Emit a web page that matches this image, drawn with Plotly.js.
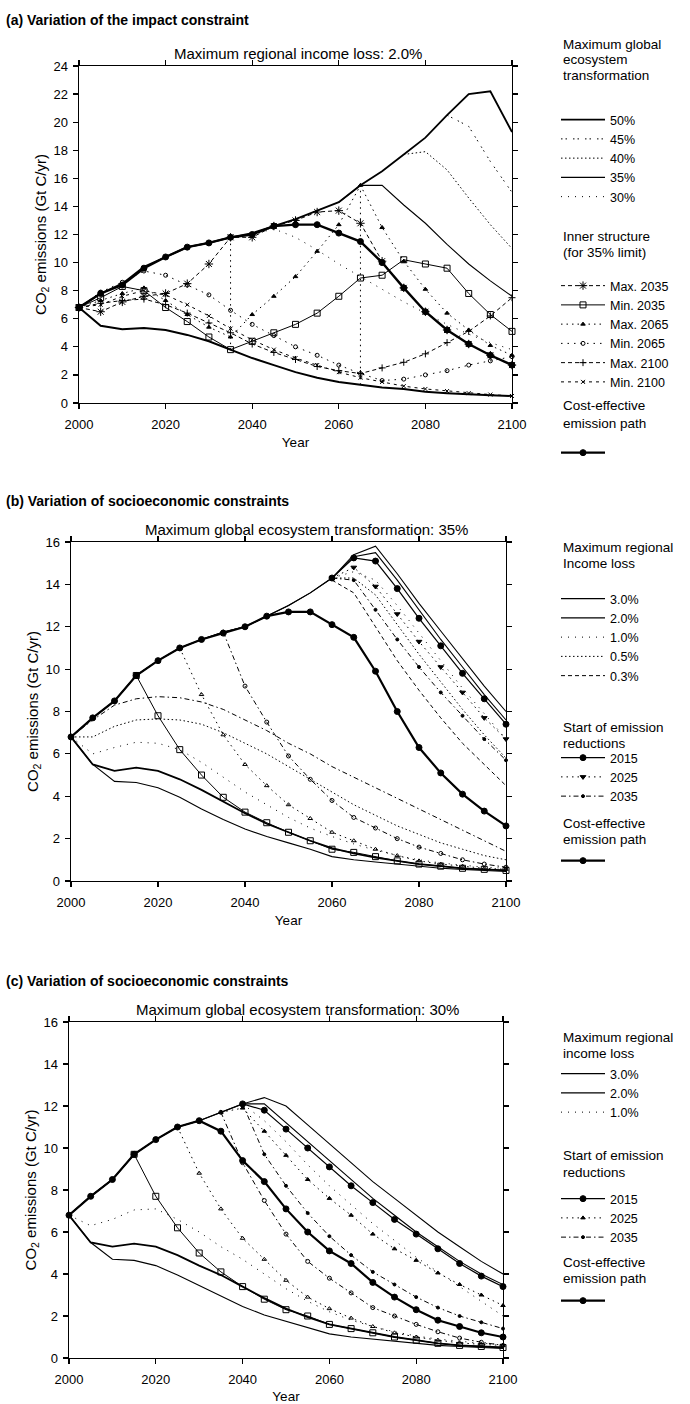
<!DOCTYPE html>
<html>
<head>
<meta charset="utf-8">
<script src="https://cdn.plot.ly/plotly-3.0.1.min.js"></script>
<style>html,body{margin:0;padding:0;background:#fff;}#chart{width:690px;height:1404px;}</style>
</head>
<body>
<div id="chart"></div>
<script>
// ---------- DATA ----------
const YEARS = [2000,2005,2010,2015,2020,2025,2030,2035,2040,2045,2050,2055,2060,2065,2070,2075,2080,2085,2090,2095,2100];
const X_TICKS = [2000,2020,2040,2060,2080,2100];
const A_Y_TICKS = [0,2,4,6,8,10,12,14,16,18,20,22,24];
const BC_Y_TICKS = [0,2,4,6,8,10,12,14,16];

// Panel (a): variation of the impact constraint (max regional income loss 2.0%)
const A_COST    = [6.8,7.8,8.4,9.6,10.4,11.1,11.4,11.8,12.0,12.6,12.7,12.7,12.1,11.5,10.0,8.2,6.5,5.2,4.2,3.4,2.7];
const A_LOWER   = [6.8,5.5,5.25,5.35,5.2,4.85,4.4,3.8,3.2,2.7,2.2,1.8,1.5,1.3,1.1,1.0,0.8,0.7,0.6,0.55,0.5];
const A_UP50    = [6.8,7.8,8.5,9.7,10.4,11.1,11.4,11.8,12.1,12.6,13.1,13.7,14.3,15.5,16.5,17.7,18.9,20.5,22.0,22.2,19.3];
const A_UP45    = [null,null,null,null,null,null,null,null,null,null,null,null,null,null,null,null,null,20.5,19.7,17.2,15.0];
const A_UP40    = [null,null,null,null,null,null,null,null,null,null,null,null,null,null,null,17.7,17.9,16.6,14.6,12.7,11.0];
const A_UP35    = [null,null,null,null,null,null,null,null,null,null,null,null,14.3,15.5,15.5,14.1,12.8,11.3,9.9,8.7,7.6];
const A_UP30    = [null,null,null,null,null,null,null,null,12.0,12.4,11.8,10.9,9.9,9.0,8.1,7.2,6.4,5.6,4.9,4.3,3.8];
const A_MAX2035 = [6.8,6.5,7.2,7.6,7.8,8.5,9.9,11.8,11.8,12.6,13.0,13.6,13.7,12.8,10.1,8.2,6.5,5.2,4.2,3.4,2.7];
const A_MIN2035 = [6.8,7.5,8.3,8.0,6.8,5.8,4.7,3.8,4.4,5.0,5.6,6.4,7.6,8.9,9.1,10.2,9.9,9.6,7.8,6.3,5.1];
const A_MAX2065 = [6.8,7.3,7.8,8.2,7.3,6.3,5.4,4.7,6.3,7.6,9.0,10.8,12.7,15.5,12.5,10.1,8.1,6.4,5.2,4.1,3.4];
const A_MIN2065 = [6.8,7.9,8.6,9.4,9.1,8.4,7.7,6.6,5.6,4.8,4.0,3.4,2.7,2.1,1.6,1.7,2.0,2.3,2.7,3.0,3.3];
const A_MAX2100 = [6.8,7.1,7.3,7.4,7.0,6.4,5.7,5.0,4.2,3.6,3.1,2.6,2.3,2.1,2.5,2.9,3.5,4.3,5.1,6.2,7.5];
const A_MIN2100 = [6.8,7.0,7.6,8.0,7.7,7.0,6.2,5.3,4.5,3.8,3.2,2.7,2.2,1.8,1.5,1.2,1.0,0.85,0.7,0.6,0.5];
const A_VLINE35_X = [2035,2035], A_VLINE35_Y = [3.8,11.8];
const A_VLINE65_X = [2065,2065], A_VLINE65_Y = [1.3,15.5];

// Panel (b): socioeconomic constraints, max ecosystem transformation 35%
const B_COST  = [6.8,7.7,8.5,9.7,10.4,11.0,11.4,11.7,12.0,12.5,12.7,12.7,12.1,11.5,9.9,8.0,6.3,5.1,4.1,3.3,2.6];
const B_UP30  = [6.8,7.7,8.5,9.7,10.4,11.0,11.4,11.75,12.0,12.5,13.0,13.6,14.3,15.4,15.8,14.5,13.1,11.8,10.5,9.2,8.0];
const B_UP20  = [6.8,7.7,8.5,9.7,10.4,11.0,11.4,11.75,12.0,12.5,13.0,13.6,14.3,15.3,15.5,14.2,12.8,11.4,10.1,8.8,7.6];
const B_UP10  = [null,null,null,null,null,null,null,null,null,null,null,null,14.3,14.6,14.2,13.0,11.7,10.4,9.1,7.9,6.7];
const B_UP05  = [null,null,null,null,null,null,null,null,null,null,null,null,14.3,14.3,13.5,12.1,10.7,9.4,8.1,6.9,5.8];
const B_UP03  = [null,null,null,null,null,null,null,null,null,null,null,null,14.2,13.6,12.0,10.4,9.0,7.7,6.5,5.5,4.5];
const B_S2015 = [null,null,null,null,null,null,null,null,null,null,null,null,14.3,15.25,15.1,13.8,12.4,11.1,9.8,8.6,7.4];
const B_S2025 = [null,null,null,null,null,null,null,null,null,null,null,null,14.3,14.8,13.9,12.6,11.3,10.1,8.9,7.7,6.7];
const B_S2035 = [null,null,null,null,null,null,null,null,null,null,null,null,14.3,14.2,12.8,11.4,10.1,8.9,7.8,6.7,5.7];
const B_LO30  = [6.8,5.5,4.7,4.65,4.4,3.95,3.4,2.9,2.45,2.1,1.8,1.5,1.15,1.0,0.9,0.8,0.7,0.6,0.55,0.5,0.45];
const B_LO20  = [6.8,5.5,5.2,5.35,5.2,4.8,4.3,3.75,3.2,2.7,2.3,1.9,1.55,1.3,1.1,0.95,0.8,0.7,0.6,0.55,0.5];
const B_LO10  = [6.8,6.0,6.3,6.55,6.5,6.2,5.6,4.9,4.2,3.6,3.0,2.5,2.1,1.75,1.45,1.2,1.0,0.85,0.75,0.65,0.6];
const B_LO05  = [6.8,6.8,7.3,7.6,7.65,7.6,7.4,7.0,6.5,6.0,5.4,4.8,4.2,3.6,3.1,2.6,2.2,1.8,1.5,1.2,1.0];
const B_LO03  = [6.8,7.6,8.3,8.6,8.7,8.65,8.45,8.1,7.6,7.1,6.5,6.0,5.4,4.9,4.4,3.9,3.4,2.9,2.4,1.9,1.4];
const B_L2015 = [null,null,null,9.7,7.8,6.2,5.0,3.95,3.25,2.75,2.3,1.9,1.5,1.35,1.15,0.95,0.8,0.7,0.6,0.55,0.5];
const B_L2025 = [null,null,null,null,null,11.0,8.8,6.9,5.5,4.5,3.6,2.95,2.3,1.9,1.5,1.2,0.95,0.8,0.7,0.6,0.55];
const B_L2035 = [null,null,null,null,null,null,null,11.75,9.2,7.5,5.9,4.8,3.8,3.0,2.5,2.0,1.6,1.3,1.0,0.8,0.65];

// Panel (c): socioeconomic constraints, max ecosystem transformation 30%
const C_COST  = [6.8,7.7,8.5,9.7,10.4,11.0,11.3,10.8,9.4,8.4,7.1,6.0,5.1,4.5,3.6,2.9,2.3,1.8,1.5,1.2,1.0];
const C_UP30  = [6.8,7.7,8.5,9.7,10.4,11.0,11.3,11.7,12.1,12.4,12.0,11.1,10.2,9.3,8.4,7.6,6.8,6.0,5.3,4.6,4.0];
const C_UP20  = [6.8,7.7,8.5,9.7,10.4,11.0,11.3,11.7,12.1,12.1,11.2,10.3,9.4,8.5,7.6,6.8,6.0,5.3,4.6,4.0,3.5];
const C_UP10  = [null,null,null,null,null,null,null,null,12.1,11.3,10.3,9.2,8.2,7.3,6.4,5.6,4.8,4.1,3.4,2.7,2.0];
const C_S2015 = [null,null,null,null,null,null,null,null,12.1,11.8,10.9,10.0,9.1,8.2,7.4,6.6,5.9,5.2,4.5,3.9,3.4];
const C_S2025 = [null,null,null,null,null,null,null,11.7,11.9,10.8,9.65,8.5,7.6,6.8,5.9,5.2,4.65,4.05,3.5,3.0,2.5];
const C_S2035 = [null,null,null,null,null,null,null,null,12.1,9.7,8.2,6.9,5.8,4.9,4.1,3.5,2.9,2.4,2.0,1.7,1.4];
const C_LO30  = [6.8,5.5,4.7,4.65,4.4,3.95,3.45,2.95,2.45,2.05,1.75,1.45,1.15,1.0,0.9,0.8,0.7,0.6,0.55,0.5,0.45];
const C_LO20  = [6.8,5.5,5.3,5.45,5.3,4.9,4.4,3.95,3.4,2.85,2.35,1.95,1.6,1.4,1.2,1.0,0.85,0.7,0.6,0.55,0.5];
const C_LO10  = [6.8,6.3,6.6,7.05,7.1,6.6,6.0,5.3,4.7,4.0,3.3,2.7,2.2,1.8,1.5,1.25,1.05,0.9,0.8,0.7,0.65];
const C_L2015 = [null,null,null,9.7,7.7,6.2,5.0,4.1,3.4,2.8,2.3,2.0,1.6,1.4,1.2,1.0,0.85,0.7,0.6,0.55,0.5];
const C_L2025 = [null,null,null,null,null,11.0,8.8,7.1,5.7,4.7,3.7,2.9,2.35,1.9,1.5,1.2,1.0,0.85,0.72,0.65,0.6];
const C_L2035 = [null,null,null,null,null,null,null,11.7,9.3,7.5,5.9,4.6,3.8,3.1,2.4,2.0,1.6,1.25,0.95,0.75,0.6];

// ---------- STYLE ----------
const FONT = 'Liberation Sans, Arial, Helvetica, sans-serif';
const K = '#000';
const DOT_SPARSE = '1px,6px';
const DOT_DENSE = '1.5px,2.5px';
const DOT_MID = '1.5px,4px';
const DASH = '4px,3px';
const DASHDOT = '5px,3px,1.5px,3px';

function tr(y, xa, ya, o) {
  const t = {
    type: 'scatter', x: o.x || YEARS, y: y, xaxis: xa, yaxis: ya,
    mode: o.marker ? 'lines+markers' : 'lines',
    line: {color: K, width: o.w || 1, dash: o.dash || 'solid'},
    name: o.name || '', legend: o.leg || 'legend', showlegend: !!o.leg,
    cliponaxis: false, hoverinfo: 'x+y'
  };
  if (o.marker) t.marker = {symbol: o.marker, size: o.ms || 6, color: K, line: {color: K, width: 1}};
  return t;
}

const traces = [];
// ----- (a) -----
traces.push(tr(A_UP50, 'x', 'y', {name: '50%', w: 1.8, leg: 'legend'}));
traces.push(tr(A_UP45, 'x', 'y', {name: '45%', dash: '1.5px,3px,1.5px,6px', leg: 'legend'}));
traces.push(tr(A_UP40, 'x', 'y', {name: '40%', dash: DOT_DENSE, leg: 'legend'}));
traces.push(tr(A_UP35, 'x', 'y', {name: '35%', w: 1.1, leg: 'legend'}));
traces.push(tr(A_UP30, 'x', 'y', {name: '30%', dash: DOT_SPARSE, leg: 'legend'}));
traces.push(tr(A_LOWER, 'x', 'y', {w: 2}));
traces.push(tr(A_VLINE35_Y, 'x', 'y', {x: A_VLINE35_X, dash: DOT_MID}));
traces.push(tr(A_VLINE65_Y, 'x', 'y', {x: A_VLINE65_X, dash: DOT_MID}));
traces.push(tr(A_MAX2035, 'x', 'y', {name: 'Max. 2035', dash: DASH, marker: 'asterisk-open', ms: 7, leg: 'legend2'}));
traces.push(tr(A_MIN2035, 'x', 'y', {name: 'Min. 2035', marker: 'square-open', ms: 6, leg: 'legend2'}));
traces.push(tr(A_MAX2065, 'x', 'y', {name: 'Max. 2065', dash: DOT_MID, marker: 'triangle-up', ms: 4, leg: 'legend2'}));
traces.push(tr(A_MIN2065, 'x', 'y', {name: 'Min. 2065', dash: '1.5px,5px', marker: 'circle-open', ms: 4, leg: 'legend2'}));
traces.push(tr(A_MAX2100, 'x', 'y', {name: 'Max. 2100', dash: DASH, marker: 'cross-thin-open', ms: 5, leg: 'legend2'}));
traces.push(tr(A_MIN2100, 'x', 'y', {name: 'Min. 2100', dash: '3px,4px', marker: 'x-thin-open', ms: 4, leg: 'legend2'}));
traces.push(tr(A_COST, 'x', 'y', {name: '', w: 2.4, marker: 'circle', ms: 6, leg: 'legend3'}));

// ----- (b) -----
traces.push(tr(B_UP30, 'x2', 'y2', {name: '3.0%', w: 1.1, leg: 'legend4'}));
traces.push(tr(B_UP20, 'x2', 'y2', {name: '2.0%', w: 1.1, leg: 'legend4'}));
traces.push(tr(B_UP10, 'x2', 'y2', {name: '1.0%', dash: DOT_SPARSE, leg: 'legend4'}));
traces.push(tr(B_UP05, 'x2', 'y2', {name: '0.5%', dash: DOT_DENSE, leg: 'legend4'}));
traces.push(tr(B_UP03, 'x2', 'y2', {name: '0.3%', dash: DASH, leg: 'legend4'}));
traces.push(tr(B_LO30, 'x2', 'y2', {w: 1.1}));
traces.push(tr(B_LO20, 'x2', 'y2', {w: 1.8}));
traces.push(tr(B_LO10, 'x2', 'y2', {dash: DOT_SPARSE}));
traces.push(tr(B_LO05, 'x2', 'y2', {dash: DOT_DENSE}));
traces.push(tr(B_LO03, 'x2', 'y2', {dash: DASHDOT}));
traces.push(tr(B_S2015, 'x2', 'y2', {name: '2015', w: 1.2, marker: 'circle', ms: 6, leg: 'legend5'}));
traces.push(tr(B_S2025, 'x2', 'y2', {name: '2025', dash: DOT_MID, marker: 'triangle-down', ms: 5, leg: 'legend5'}));
traces.push(tr(B_S2035, 'x2', 'y2', {name: '2035', dash: DASHDOT, marker: 'circle', ms: 3, leg: 'legend5'}));
traces.push(tr(B_L2015, 'x2', 'y2', {marker: 'square-open', ms: 6}));
traces.push(tr(B_L2025, 'x2', 'y2', {dash: DOT_MID, marker: 'triangle-up-open', ms: 4}));
traces.push(tr(B_L2035, 'x2', 'y2', {dash: DASHDOT, marker: 'circle-open', ms: 4}));
traces.push(tr(B_COST, 'x2', 'y2', {name: '', w: 2.2, marker: 'circle', ms: 6, leg: 'legend6'}));

// ----- (c) -----
traces.push(tr(C_UP30, 'x3', 'y3', {name: '3.0%', w: 1.1, leg: 'legend7'}));
traces.push(tr(C_UP20, 'x3', 'y3', {name: '2.0%', w: 1.1, leg: 'legend7'}));
traces.push(tr(C_UP10, 'x3', 'y3', {name: '1.0%', dash: DOT_SPARSE, leg: 'legend7'}));
traces.push(tr(C_LO30, 'x3', 'y3', {w: 1.1}));
traces.push(tr(C_LO20, 'x3', 'y3', {w: 1.8}));
traces.push(tr(C_LO10, 'x3', 'y3', {dash: DOT_SPARSE}));
traces.push(tr(C_S2015, 'x3', 'y3', {name: '2015', w: 1.2, marker: 'circle', ms: 6, leg: 'legend8'}));
traces.push(tr(C_S2025, 'x3', 'y3', {name: '2025', dash: DOT_MID, marker: 'triangle-up', ms: 4, leg: 'legend8'}));
traces.push(tr(C_S2035, 'x3', 'y3', {name: '2035', dash: DASHDOT, marker: 'circle', ms: 3, leg: 'legend8'}));
traces.push(tr(C_L2015, 'x3', 'y3', {marker: 'square-open', ms: 6}));
traces.push(tr(C_L2025, 'x3', 'y3', {dash: DOT_MID, marker: 'triangle-up-open', ms: 4}));
traces.push(tr(C_L2035, 'x3', 'y3', {dash: DASHDOT, marker: 'circle-open', ms: 4}));
traces.push(tr(C_COST, 'x3', 'y3', {name: '', w: 2.2, marker: 'circle', ms: 6, leg: 'legend9'}));

// ---------- LAYOUT ----------
const W = 690, H = 1404;
const px = v => v / W, py = v => 1 - v / H;
function xax(l, r, anchor) {
  return {domain: [px(l), px(r)], anchor: anchor, range: [2000, 2100], tickvals: X_TICKS,
    ticks: 'outside', ticklen: 5, tickwidth: 1.2, tickcolor: K, showline: true, linewidth: 1.4, linecolor: K,
    mirror: 'ticks', showgrid: false, zeroline: false, ticklabelstandoff: 4,
    tickfont: {family: FONT, size: 13, color: K},
    title: {text: 'Year', font: {family: FONT, size: 13.5, color: K}, standoff: 6}};
}
function yax(t, b, anchor, top, ticks) {
  return {domain: [py(b), py(t)], anchor: anchor, range: [0, top], tickvals: ticks,
    ticks: 'outside', ticklen: 5, tickwidth: 1.2, tickcolor: K, showline: true, linewidth: 1.4, linecolor: K,
    mirror: 'ticks', showgrid: false, zeroline: false, ticklabelstandoff: 2,
    tickfont: {family: FONT, size: 13, color: K},
    title: {text: 'CO<sub>2</sub> emissions (Gt C/yr)', font: {family: FONT, size: 15, color: K}, standoff: 3}};
}
// legend whose first item is centred at pixel row firstY
function leg(firstY) {
  return {x: px(556), y: py(firstY - 14), xanchor: 'left', yanchor: 'top', traceorder: 'normal',
    font: {family: FONT, size: 12.5, color: K},
    itemwidth: 44, bgcolor: 'rgba(0,0,0,0)', borderwidth: 0, itemclick: false, itemdoubleclick: false};
}
function ann(text, xp, yp, anchor, bold, size) {
  return {text: bold ? '<b>' + text + '</b>' : text, xref: 'paper', yref: 'paper', x: px(xp), y: py(yp),
    xanchor: anchor, yanchor: 'middle', showarrow: false, font: {family: FONT, size: size, color: K}};
}
const HEAD_X = 561, HEAD_SIZE = 13.5;
const heads = [
  ['Maximum global', 45], ['ecosystem', 60], ['transformation', 75],
  ['Inner structure', 236], ['(for 35% limit)', 253],
  ['Cost-effective', 406], ['emission path', 423],
  ['Maximum regional', 547], ['Income loss', 563],
  ['Start of emission', 727], ['reductions', 743],
  ['Cost-effective', 823], ['emission path', 839],
  ['Maximum regional', 1037], ['income loss', 1053],
  ['Start of emission', 1155], ['reductions', 1172],
  ['Cost-effective', 1262], ['emission path', 1278]
];

const layout = {
  width: W, height: H, margin: {l: 0, r: 0, t: 0, b: 0},
  paper_bgcolor: '#fff', plot_bgcolor: '#fff', showlegend: true,
  font: {family: FONT, color: K},
  xaxis: xax(79, 512, 'y'), yaxis: yax(66, 403, 'x', 24, A_Y_TICKS),
  xaxis2: xax(71, 506, 'y2'), yaxis2: yax(542, 881, 'x2', 16, BC_Y_TICKS),
  xaxis3: xax(69, 503, 'y3'), yaxis3: yax(1022, 1358, 'x3', 16, BC_Y_TICKS),
  legend: leg(119), legend2: leg(285), legend3: leg(452),
  legend4: leg(598), legend5: leg(757), legend6: leg(860),
  legend7: leg(1073), legend8: leg(1198), legend9: leg(1300),
  annotations: [
    ann('(a) Variation of the impact constraint', 4, 20, 'left', true, 14),
    ann('Maximum regional income loss: 2.0%', 298, 53, 'center', false, 15),
    ann('(b) Variation of socioeconomic constraints', 4, 501, 'left', true, 14),
    ann('Maximum global ecosystem transformation: 35%', 306, 530, 'center', false, 15),
    ann('(c) Variation of socioeconomic constraints', 4, 981, 'left', true, 14),
    ann('Maximum global ecosystem transformation: 30%', 297, 1009, 'center', false, 15)
  ].concat(heads.map(h => ann(h[0], HEAD_X, h[1], 'left', false, HEAD_SIZE)))
};

Plotly.newPlot('chart', traces, layout, {displayModeBar: false, staticPlot: true});
</script>
</body>
</html>
